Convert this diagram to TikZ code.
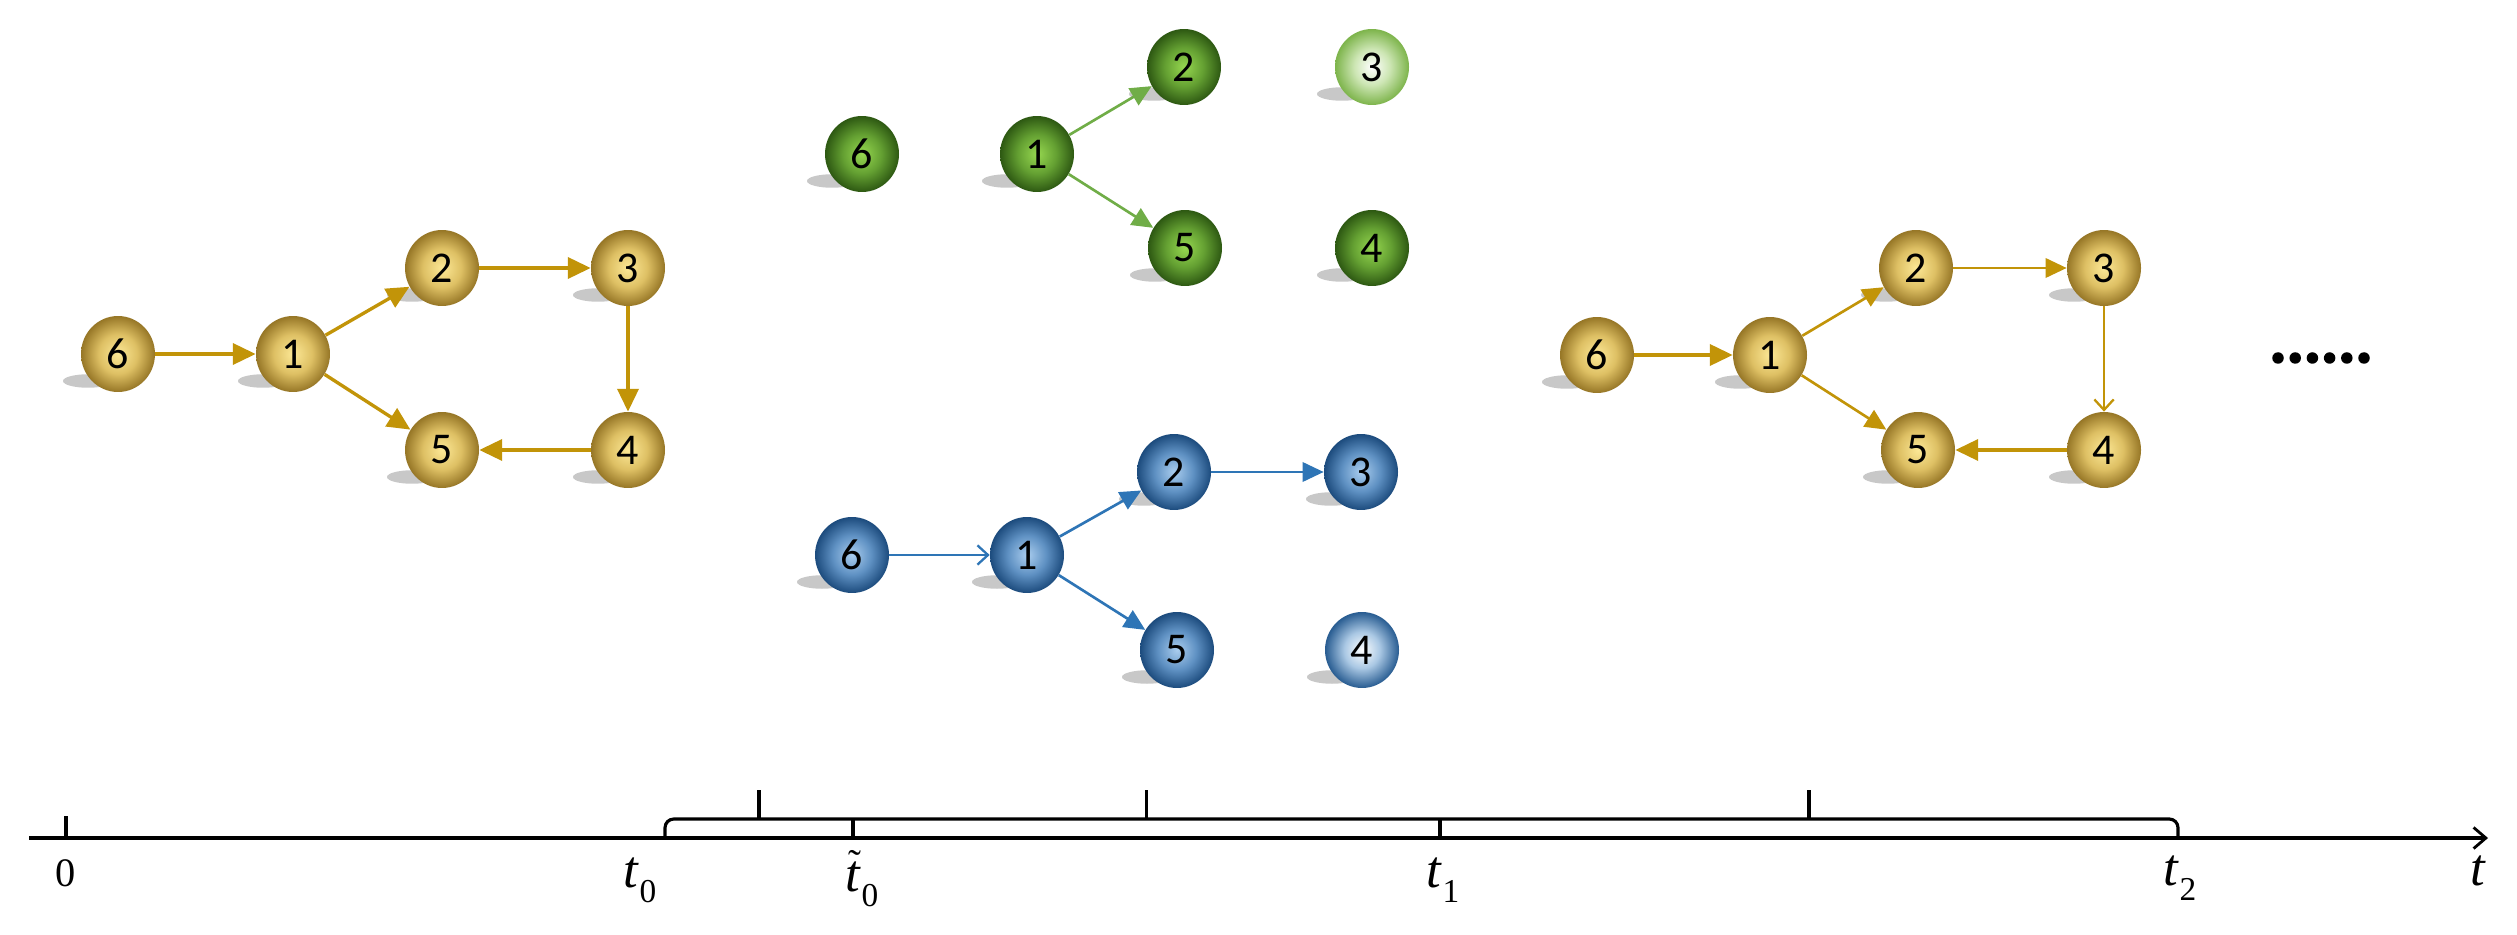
\documentclass[tikz,border=0pt]{standalone}
\usepackage{fontspec}
\setmainfont{Liberation Serif}
\newfontfamily\ballfont{Carlito}
\usetikzlibrary{shapes.geometric,arrows.meta,backgrounds,calc}

\definecolor{gIn}{RGB}{252,232,150}
\definecolor{gMid}{RGB}{222,192,100}
\definecolor{gOut}{RGB}{150,118,38}
\definecolor{grIn}{RGB}{150,215,80}
\definecolor{grMid}{RGB}{100,160,50}
\definecolor{grOut}{RGB}{45,88,18}
\definecolor{glIn}{RGB}{255,255,255}
\definecolor{glMid}{RGB}{205,230,180}
\definecolor{glOut}{RGB}{125,180,75}
\definecolor{bIn}{RGB}{170,205,238}
\definecolor{bMid}{RGB}{95,145,195}
\definecolor{bOut}{RGB}{28,75,125}
\definecolor{blIn}{RGB}{255,255,255}
\definecolor{blMid}{RGB}{170,200,228}
\definecolor{blOut}{RGB}{40,92,145}
\definecolor{goldArrow}{RGB}{194,148,8}
\definecolor{greenArrow}{RGB}{112,173,71}
\definecolor{blueArrow}{RGB}{46,117,182}
\definecolor{shadowc}{RGB}{200,200,200}

\pgfdeclareradialshading{goldball}{\pgfpoint{0bp}{0bp}}{color(0bp)=(gIn); color(13bp)=(gMid); color(25bp)=(gOut); color(50bp)=(gOut)}
\pgfdeclareradialshading{greenball}{\pgfpoint{0bp}{0bp}}{color(0bp)=(grIn); color(13bp)=(grMid); color(25bp)=(grOut); color(50bp)=(grOut)}
\pgfdeclareradialshading{greenlight}{\pgfpoint{0bp}{0bp}}{color(0bp)=(glIn); color(12bp)=(glMid); color(25bp)=(glOut); color(50bp)=(glOut)}
\pgfdeclareradialshading{blueball}{\pgfpoint{0bp}{0bp}}{color(0bp)=(bIn); color(13bp)=(bMid); color(25bp)=(bOut); color(50bp)=(bOut)}
\pgfdeclareradialshading{bluelight}{\pgfpoint{0bp}{0bp}}{color(0bp)=(blIn); color(12bp)=(blMid); color(25bp)=(blOut); color(50bp)=(blOut)}

\newcommand{\tlab}[2]{#1\raisebox{-0.3em}{\fontsize{19}{19}\selectfont #2}}
\newcommand{\ttilde}{\makebox[0pt][l]{\makebox[0.36em][c]{\raisebox{8pt}{\fontsize{22}{22}\selectfont\char"02DC}}}\textit{t}}

\tikzset{
  ball/.style={ellipse, minimum width=1.48cm, minimum height=1.52cm, inner sep=0pt,
    font=\ballfont\fontsize{25}{25}\selectfont, shade},
  gold/.style={ball, shading=goldball},
  green/.style={ball, shading=greenball},
  greenl/.style={ball, shading=greenlight},
  blue/.style={ball, shading=blueball},
  bluel/.style={ball, shading=bluelight},
  thickarr/.style={line width=1.9pt, -{Triangle[length=13pt,width=12pt]}},
  medarr/.style={line width=1.5pt, -{Triangle[length=12pt,width=11pt]}},
  openarr/.style={line width=1.2pt, -{Straight Barb[length=6pt,width=11pt,line width=1.3pt]}},
  axisline/.style={line width=1.8pt, black},
  lab/.style={inner sep=0pt, anchor=base, font=\fontsize{30}{30}\selectfont},
  shad/.style={fill=shadowc}
}

\begin{document}
\begin{tikzpicture}[x=0.02cm, y=-0.02cm]
\useasboundingbox (0,0) rectangle (2517,935);

% left gold graph
\node[gold] (gL6) at (118,354) {6};
\node[gold] (gL1) at (293,354) {1};
\node[gold] (gL2) at (442,268) {2};
\node[gold] (gL3) at (628,268) {3};
\node[gold] (gL5) at (442,450) {5};
\node[gold] (gL4) at (628,450) {4};
\begin{scope}[goldArrow, thickarr]
\draw (gL6) -- (gL1);
\draw (gL1) -- (gL2);
\draw (gL1) -- (gL5);
\draw (gL2) -- (gL3);
\draw (gL3) -- (gL4);
\draw (gL4) -- (gL5);
\end{scope}

% green graph
\node[green] (G6) at (862,154) {6};
\node[green] (G1) at (1037,154) {1};
\node[green] (G2) at (1184,67) {2};
\node[greenl] (G3) at (1372,67) {3};
\node[green] (G5) at (1185,248) {5};
\node[green] (G4) at (1372,248) {4};
\begin{scope}[greenArrow, medarr]
\draw (G1) -- (G2);
\draw (G1) -- (G5);
\end{scope}

% blue graph
\node[blue] (B6) at (852,555) {6};
\node[blue] (B1) at (1027,555) {1};
\node[blue] (B2) at (1174,472) {2};
\node[blue] (B3) at (1361,472) {3};
\node[blue] (B5) at (1177,650) {5};
\node[bluel] (B4) at (1362,650) {4};
\draw[blueArrow, openarr] (B6) -- (B1);
\begin{scope}[blueArrow, medarr]
\draw (B1) -- (B2);
\draw (B1) -- (B5);
\draw (B2) -- (B3);
\end{scope}

% right gold graph
\node[gold] (gR6) at (1597,355) {6};
\node[gold] (gR1) at (1770,355) {1};
\node[gold] (gR2) at (1916,268) {2};
\node[gold] (gR3) at (2104,268) {3};
\node[gold] (gR5) at (1918,450) {5};
\node[gold] (gR4) at (2104,450) {4};
\draw[goldArrow, thickarr] (gR6) -- (gR1);
\draw[goldArrow, medarr] (gR1) -- (gR2);
\draw[goldArrow, medarr] (gR1) -- (gR5);
\draw[goldArrow, medarr] (gR2) -- (gR3);
\draw[goldArrow, openarr] (gR3) -- (gR4);
\draw[goldArrow, thickarr] (gR4) -- (gR5);

% ellipsis dots
\foreach \k in {0,...,5}
  \fill[black] ({2278+17.2*\k},358) circle [radius=0.115cm];

% timeline
\coordinate (axL) at (29,838);
\coordinate (axR) at (2488,838);
\coordinate (Z) at (66,838);
\coordinate (T0) at (665,838);
\coordinate (T0t) at (853,838);
\coordinate (T1) at (1440,838);
\coordinate (T2) at (2178,838);
\draw[axisline, -{Straight Barb[length=7pt,width=12pt,line width=1.6pt]}] (axL) -- (axR);
\draw[axisline] (Z) -- ++(0,-22);
\draw[axisline, rounded corners=5pt] (T0) |- ($(T2)+(0,-19)$) -- (T2);
\draw[axisline] (T0t) -- ++(0,-19);
\draw[axisline] (T1) -- ++(0,-19);
\draw[axisline] ($(T0)!0.5!(T0t)+(0,-19)$) -- ++(0,-29);
\draw[axisline] ($(T0t)!0.5!(T1)+(0,-19)$) -- ++(0,-29);
\draw[axisline] ($(T1)!0.5!(T2)+(0,-19)$) -- ++(0,-29);

\node[lab, font=\fontsize{23}{23}\selectfont] (l0) at (66,886) {0};
\node[lab] (lt0) at (640,887) {\tlab{\textit{t}}{0}};
\node[lab] (lt0t) at (862,891) {\tlab{\ttilde}{0}};
\node[lab] (lt1) at (1443,887) {\tlab{\textit{t}}{1}};
\node[lab] (lt2) at (2180,885) {\tlab{\textit{t}}{2}};
\node[lab] (lt) at (2478,885) {\textit{t}};

% background and shadows
\begin{scope}[on background layer]
\fill[white] (0,0) rectangle (2517,935);
\foreach \n in {gL6,gL1,gL2,gL3,gL4,gL5,G6,G1,G2,G3,G4,G5,B6,B1,B2,B3,B4,B5,gR6,gR1,gR2,gR3,gR4,gR5}
  \fill[shad] ($(\n.center)+(-30,27)$) ellipse [x radius=0.5cm, y radius=0.135cm];
\end{scope}
\end{tikzpicture}
\end{document}
